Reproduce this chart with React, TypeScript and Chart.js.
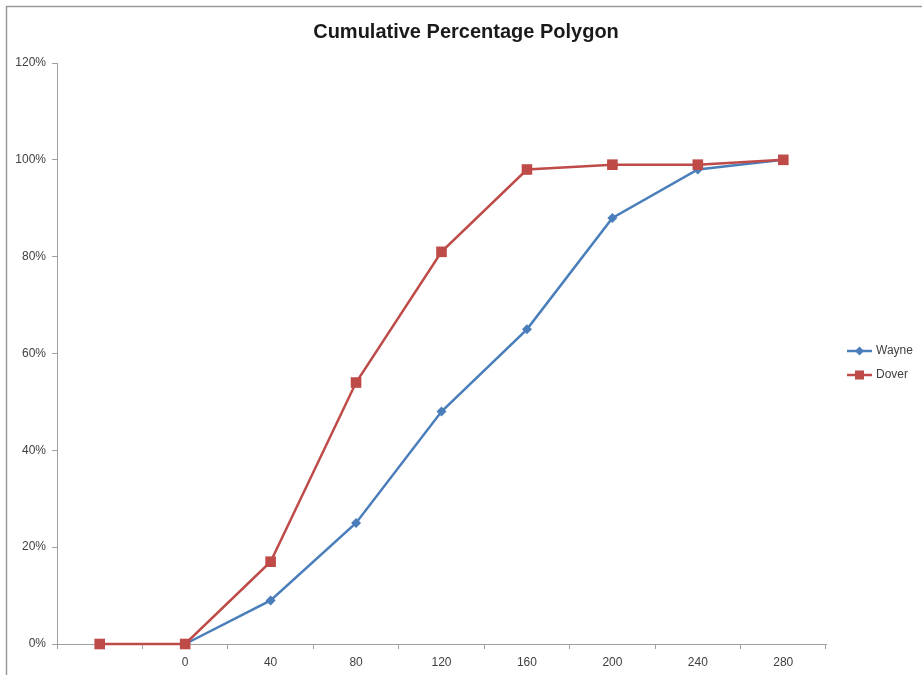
import React, { useEffect, useRef } from "react";
import { Chart, registerables } from "chart.js";

Chart.register(...registerables);

const categories = ["", "0", "40", "80", "120", "160", "200", "240", "280"];
const wayne = [null, 0, 9, 25, 48, 65, 88, 98, 100];
const dover = [0, 0, 17, 54, 81, 98, 99, 99, 100];
const yTicks = { min: 0, max: 120, step: 20 };
const seriesNames = ["Wayne", "Dover"];
const titleText = "Cumulative Percentage Polygon";

const BLUE = "#4A7EBB";
const RED = "#BE4B48";
const AXIS = "#a0a0a0";
const TEXT = "#404040";
const FONT = "'Liberation Sans', Arial, sans-serif";

export default function App() {
  const ref = useRef<HTMLCanvasElement | null>(null);
  useEffect(() => {
    if (!ref.current) return;
    const decor = {
      id: "decor",
      beforeDraw(chart: any) {
        const ctx = chart.ctx;
        ctx.save();
        ctx.fillStyle = "#ffffff";
        ctx.fillRect(0, 0, chart.width, chart.height);
        ctx.strokeStyle = "#9a9a9a";
        ctx.lineWidth = 1.5;
        ctx.beginPath();
        ctx.moveTo(6.5, chart.height);
        ctx.lineTo(6.5, 6.5);
        ctx.lineTo(chart.width, 6.5);
        ctx.stroke();
        ctx.restore();
      },
      afterDraw(chart: any) {
        const ctx = chart.ctx;
        ctx.save();
        ctx.fillStyle = "#1a1a1a";
        ctx.font = `bold 20px ${FONT}`;
        ctx.textAlign = "center";
        ctx.textBaseline = "middle";
        ctx.fillText(titleText, 466, 32);
        // legend
        const items = [
          { name: seriesNames[0], color: BLUE, style: "diamond" },
          { name: seriesNames[1], color: RED, style: "square" },
        ];
        items.forEach((it, i) => {
          const y = 351 + i * 24;
          ctx.strokeStyle = it.color;
          ctx.lineWidth = 2.5;
          ctx.beginPath();
          ctx.moveTo(847, y);
          ctx.lineTo(872, y);
          ctx.stroke();
          ctx.fillStyle = it.color;
          const cx = 859.5;
          if (it.style === "diamond") {
            ctx.beginPath();
            ctx.moveTo(cx - 4.5, y);
            ctx.lineTo(cx, y - 4.5);
            ctx.lineTo(cx + 4.5, y);
            ctx.lineTo(cx, y + 4.5);
            ctx.closePath();
            ctx.fill();
          } else {
            ctx.fillRect(cx - 4.5, y - 4.5, 9, 9);
          }
          ctx.fillStyle = TEXT;
          ctx.font = `12px ${FONT}`;
          ctx.textAlign = "left";
          ctx.textBaseline = "middle";
          ctx.fillText(it.name, 876, y);
        });
        ctx.restore();
      },
    };
    const chart = new Chart(ref.current, {
      type: "line",
      data: {
        labels: categories,
        datasets: [
          {
            label: seriesNames[0],
            data: wayne,
            borderColor: BLUE,
            backgroundColor: BLUE,
            borderWidth: 2.5,
            pointStyle: "rectRot",
            pointRadius: 5,
            pointBorderWidth: 0,
            pointBackgroundColor: BLUE,
            tension: 0,
            clip: false,
            order: 1,
          },
          {
            label: seriesNames[1],
            data: dover,
            borderColor: RED,
            backgroundColor: RED,
            borderWidth: 2.5,
            pointStyle: "rect",
            pointRadius: 7.5,
            pointBorderWidth: 0,
            pointBackgroundColor: RED,
            tension: 0,
            clip: false,
            order: 0,
          },
        ],
      },
      options: {
        responsive: false,
        animation: false,
        layout: { padding: { top: 63, right: 96, bottom: 0, left: 0 } },
        plugins: {
          legend: { display: false },
          title: { display: false },
          tooltip: { enabled: false },
        },
        scales: {
          x: {
            type: "category",
            offset: true,
            grid: {
              offset: true,
              drawOnChartArea: false,
              drawTicks: true,
              tickLength: 5,
              color: AXIS,
            },
            border: { display: true, color: AXIS, width: 1 },
            ticks: {
              color: TEXT,
              font: { family: FONT, size: 12 },
              padding: 6,
              maxRotation: 0,
              autoSkip: false,
            },
            afterFit(scale: any) {
              scale.height = 31;
            },
          },
          y: {
            min: yTicks.min,
            max: yTicks.max,
            grid: {
              drawOnChartArea: false,
              drawTicks: true,
              tickLength: 5,
              color: AXIS,
            },
            border: { display: true, color: AXIS, width: 1 },
            ticks: {
              stepSize: yTicks.step,
              color: TEXT,
              font: { family: FONT, size: 12 },
              padding: 6,
              callback: (v: any) => `${v}%`,
            },
            afterFit(scale: any) {
              scale.width = 57;
            },
          },
        },
      },
      plugins: [decor],
    });
    return () => chart.destroy();
  }, []);
  return (
    <div style={{ position: "fixed", left: 0, top: 0, width: 922, height: 675 }}>
      <canvas ref={ref} width={922} height={675} style={{ display: "block" }} />
    </div>
  );
}
